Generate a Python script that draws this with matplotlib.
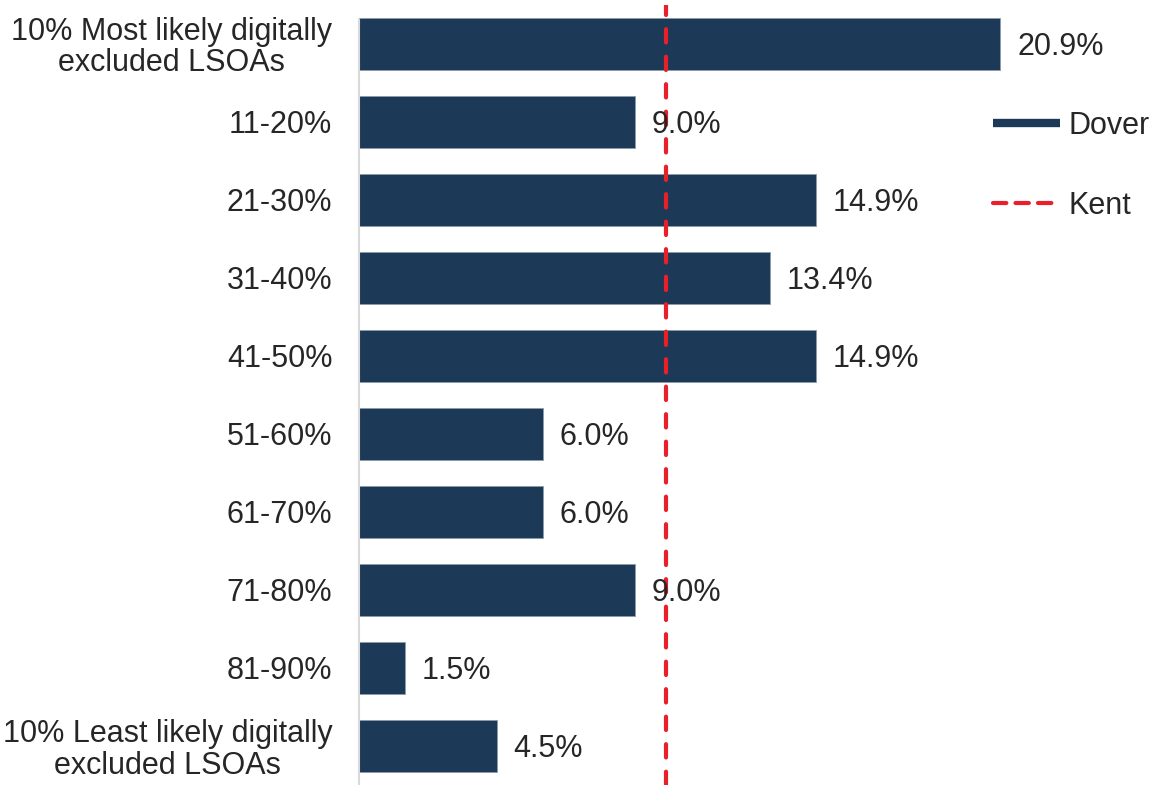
import matplotlib
matplotlib.use("Agg")
import matplotlib.pyplot as plt
from matplotlib.lines import Line2D

categories = [
    "10% Most likely digitally\nexcluded LSOAs",
    "11-20%", "21-30%", "31-40%", "41-50%", "51-60%",
    "61-70%", "71-80%", "81-90%",
    "10% Least likely digitally\nexcluded LSOAs",
]
dover = [20.9, 9.0, 14.9, 13.4, 14.9, 6.0, 6.0, 9.0, 1.5, 4.5]
kent = 10.0

plt.rcParams['font.family'] = ['Liberation Sans', 'DejaVu Sans']
bar_color = '#1C3A57'
red = '#E8202A'

fig = plt.figure(figsize=(11.57, 7.85), dpi=100)
ax = fig.add_axes([0.310, 0.0, 0.690, 0.994])

y = list(range(len(categories)))
ax.barh(y, dover, height=0.67, color=bar_color, edgecolor='#8C9BAA', linewidth=0.6, zorder=2)
ax.axvline(kent, color=red, lw=3, linestyle=(0, (3.2, 3.4)), dash_capstyle='round', zorder=3)

for yi, v in zip(y, dover):
    ax.annotate(f"{v:.1f}%", xy=(v, yi), xytext=(12, 0), textcoords='offset points',
                ha='left', va='center_baseline', fontsize=22, color='#262626', zorder=4)

ax.set_xlim(0, 26.0)
ax.set_ylim(len(categories) - 0.5, -0.5)
ax.set_yticks(y)
ax.set_yticklabels(categories, fontsize=22, color='#262626', linespacing=1.05,
                   multialignment='center')
ax.tick_params(axis='y', length=0, pad=19)
ax.set_xticks([])
for s in ['top', 'right', 'bottom']:
    ax.spines[s].set_visible(False)
ax.spines['left'].set_color('#D9D9D9')
ax.spines['left'].set_linewidth(1.5)
ax.spines['left'].set_bounds(len(categories) - 0.5, -0.3)

handles = [
    Line2D([], [], color=bar_color, lw=6, solid_capstyle='butt'),
    Line2D([], [], color=red, lw=3, linestyle=(0, (3.2, 2.2)), dash_capstyle='round'),
]
fig.legend(handles, ['Dover', 'Kent'], loc='upper left', bbox_to_anchor=(965/1157, 1 - 83/785),
           frameon=False, fontsize=22, handlelength=2.2, handletextpad=0.3,
           labelspacing=1.65, labelcolor='#262626')

fig.savefig('out.png', dpi=100)
